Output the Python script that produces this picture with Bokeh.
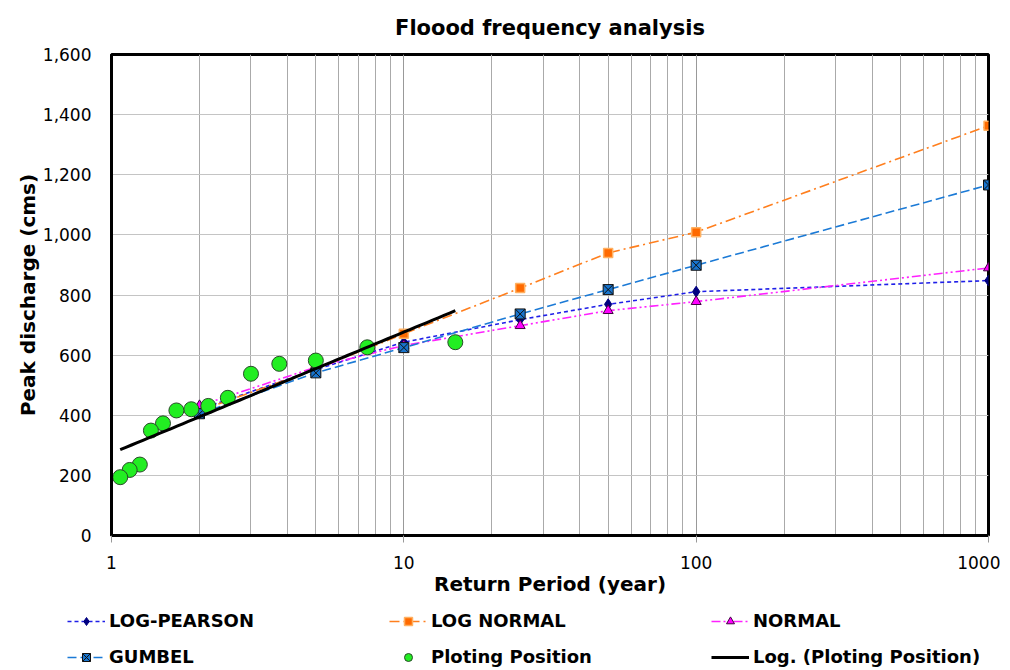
import numpy as np
from bokeh.plotting import figure
from bokeh.layouts import column
from bokeh.models import (FixedTicker, NumeralTickFormatter, Legend, LegendItem,
                          Range1d)
from bokeh.embed import file_html
from bokeh.resources import INLINE

# ---- data ----
return_periods = [2, 5, 10, 25, 50, 100, 1000]
log_pearson = [420, 552, 643, 718, 769, 811, 848]
log_normal = [415, 553, 671, 823, 940, 1009, 1363]
normal = [432, 560, 632, 698, 748, 778, 890]
gumbel = [405, 541, 625, 737, 818, 899, 1166]

plot_pos_T = [15.0, 7.5, 5.0, 3.75, 3.0, 2.5, 2.143, 1.875, 1.667, 1.5, 1.364, 1.25, 1.154, 1.071]
plot_pos_Q = [643, 626, 582, 571, 538, 458, 431, 420, 416, 373, 349, 236, 218, 194]

x_ticks = [1, 10, 100, 1000]
x_minor = [2, 3, 4, 5, 6, 7, 8, 9, 20, 30, 40, 50, 60, 70, 80, 90,
           200, 300, 400, 500, 600, 700, 800, 900]
y_ticks = [0, 200, 400, 600, 800, 1000, 1200, 1400, 1600]

series_names = ["LOG-PEARSON", "LOG NORMAL", "NORMAL", "GUMBEL",
                "Ploting Position", "Log. (Ploting Position)"]

# log trendline (Excel-style y = a ln x + b) fitted to plotting positions
a, b = np.polyfit(np.log(plot_pos_T), plot_pos_Q, 1)
trend_x = np.geomspace(min(plot_pos_T), max(plot_pos_T), 60)
trend_y = a * np.log(trend_x) + b

FONT = "DejaVu Sans"

STY = {
    "lp": dict(line=dict(line_color="#1f1fe8", line_width=1.6, line_dash="4 3"),
               mark=dict(marker="diamond", size=11, fill_color="#000080", line_color="#000080")),
    "ln": dict(line=dict(line_color="#ff7f1e", line_width=1.6, line_dash="10 4 2 4"),
               mark=dict(marker="square", size=9, fill_color="#ff6a00", line_color="#ffb060", line_width=1.5)),
    "n": dict(line=dict(line_color="#ff20ff", line_width=1.6, line_dash="9 3 2 3 2 3"),
              mark=dict(marker="triangle", size=10, fill_color="#ff00ff", line_color="#400040")),
    "g": dict(line=dict(line_color="#1b7ad6", line_width=1.6, line_dash="9 4"),
              mark=dict(marker="square_x", size=10, fill_color="#1874cd", line_color="#101010")),
}
PP_STYLE = dict(marker="circle", size=15, fill_color="#22ee22", line_color="#2a4a2a", line_width=1)
TR_STYLE = dict(line_color="black", line_width=3)

p = figure(width=1000, height=600, x_axis_type="log",
           x_range=Range1d(1, 1000), y_range=Range1d(0, 1600),
           output_backend="svg", toolbar_location=None,
           min_border_left=111, min_border_right=12,
           min_border_top=54, min_border_bottom=65)
p.frame_align = False

p.title.text = "Floood frequency analysis"
p.title.align = "center"
p.title.vertical_align = "top"
p.title.text_font = FONT
p.title.text_font_size = "21px"
p.title.text_font_style = "bold"
p.title.text_color = "black"
p.title.standoff = 25

p.outline_line_color = "black"
p.outline_line_width = 3

# axes
p.xaxis.ticker = FixedTicker(ticks=x_ticks, minor_ticks=x_minor)
p.xaxis.formatter = NumeralTickFormatter(format="0")
p.yaxis.ticker = FixedTicker(ticks=y_ticks)
p.yaxis.formatter = NumeralTickFormatter(format="0,0")
for ax in (p.xaxis, p.yaxis):
    ax.axis_line_color = "black"
    ax.axis_line_width = 3
    ax.major_label_text_font = FONT
    ax.major_label_text_font_size = "17px"
    ax.major_label_text_color = "black"
    ax.axis_label_text_font = FONT
    ax.axis_label_text_font_size = "20px"
    ax.axis_label_text_font_style = "bold"
    ax.axis_label_text_color = "black"
    ax.minor_tick_line_color = None
p.xaxis.major_tick_line_color = "#999999"
p.xaxis.major_tick_out = 7
p.xaxis.major_tick_in = 0
p.yaxis.major_tick_line_color = None
p.yaxis.major_tick_out = 0
p.yaxis.major_label_standoff = 20
p.xaxis.major_label_standoff = 13
p.xaxis.axis_label = "Return Period (year)"
p.yaxis.axis_label = "Peak discharge (cms)"
p.xaxis.axis_label_standoff = 0
p.yaxis.axis_label_standoff = 0

# grid
p.xgrid.grid_line_color = "#999999"
p.xgrid.grid_line_width = 1
p.xgrid.minor_grid_line_color = "#aaaaaa"
p.xgrid.minor_grid_line_width = 1
p.ygrid.grid_line_color = "#c4c4c4"
p.ygrid.grid_line_width = 1

# series
p.line(return_periods, log_pearson, **STY["lp"]["line"])
p.scatter(return_periods, log_pearson, **STY["lp"]["mark"])
p.line(return_periods, log_normal, **STY["ln"]["line"])
p.scatter(return_periods, log_normal, **STY["ln"]["mark"])
p.line(return_periods, normal, **STY["n"]["line"])
p.scatter(return_periods, normal, **STY["n"]["mark"])
p.line(return_periods, gumbel, **STY["g"]["line"])
p.scatter(return_periods, gumbel, **STY["g"]["mark"])
p.scatter(plot_pos_T, plot_pos_Q, **PP_STYLE)
p.line(trend_x, trend_y, **TR_STYLE)

# ---- legend strip (separate figure, invisible NaN proxy glyphs) ----
lg = figure(width=1000, height=68, x_range=Range1d(0, 1), y_range=Range1d(0, 1),
            output_backend="svg", toolbar_location=None,
            x_axis_location=None, y_axis_location=None,
            min_border_left=0, min_border_right=0, min_border_top=0,
            min_border_bottom=0, outline_line_color=None)
lg.frame_align = False
lg.grid.visible = False

NAN = [float("nan")]

def proxy(style_key):
    l = lg.line(NAN, NAN, **STY[style_key]["line"])
    m = lg.scatter(NAN, NAN, **STY[style_key]["mark"])
    return [l, m]

items = [
    LegendItem(label=series_names[0], renderers=proxy("lp")),
    LegendItem(label=series_names[1], renderers=proxy("ln")),
    LegendItem(label=series_names[2], renderers=proxy("n")),
    LegendItem(label=series_names[3], renderers=proxy("g")),
    LegendItem(label=series_names[4], renderers=[lg.scatter(NAN, NAN, **dict(PP_STYLE, size=12))]),
    LegendItem(label=series_names[5], renderers=[lg.line(NAN, NAN, **TR_STYLE)]),
]
legend = Legend(items=items, ncols=3, orientation="horizontal", location=(67, 1))
legend.label_text_font = FONT
legend.label_text_font_size = "18px"
legend.label_text_font_style = "bold"
legend.label_text_color = "black"
legend.glyph_width = 38
legend.glyph_height = 20
legend.label_width = 265
legend.label_height = 20
legend.label_standoff = 4
legend.spacing = 15
legend.border_line_color = None
legend.background_fill_alpha = 0
legend.padding = 0
legend.margin = 0
lg.add_layout(legend, "center")

layout = column(p, lg, spacing=0)
open("out.html", "w").write(file_html(layout, INLINE))
